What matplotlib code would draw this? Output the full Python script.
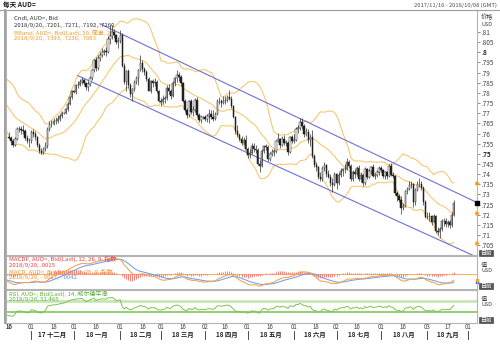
import numpy as np
import pandas as pd
import matplotlib
matplotlib.use("Agg")
import matplotlib.pyplot as plt
from matplotlib.transforms import blended_transform_factory
from matplotlib.patches import Rectangle

plt.rcParams['font.family'] = ['Noto Sans CJK SC', 'DejaVu Sans']

# ---------------------------------------------------------------- data
first_day, last_axis_day = '2017-11-16', '2018-10-08'

# daily AUD= bid candles, in pips (1e-4 USD)
opens = [
    7585, 7578, 7565, 7545, 7575, 7622, 7622, 7618, 7610, 7580, 7563,
    7565, 7607, 7600, 7583, 7545, 7515, 7503, 7525, 7540, 7624, 7647, 7646, 7663, 7661, 7673, 7685, 7701, 7701, 7720, 7745, 7780,
    7807, 7805, 7838, 7840, 7855, 7865, 7848, 7828, 7845, 7875, 7913, 7960, 7922, 7970, 7985, 8000, 8005, 8000, 8067, 8078, 8098, 8083, 8052,
    8057, 8087, 7930, 7856, 7910, 7839, 7795, 7817, 7855, 7875, 7915, 7945, 7918, 7905, 7868, 7810, 7860, 7850, 7855, 7810,
    7758, 7755, 7770, 7775, 7825, 7810, 7787, 7850, 7875, 7890, 7880, 7850, 7760, 7715, 7690, 7760, 7705, 7715, 7765, 7690, 7665, 7680,
    7680, 7670, 7685, 7695, 7680, 7670, 7695, 7760, 7762, 7750, 7760, 7765, 7780, 7772, 7735, 7680, 7610, 7595, 7575, 7555, 7570,
    7525, 7495, 7505, 7540, 7525, 7520, 7450, 7440, 7515, 7540, 7535, 7475, 7500, 7510, 7515, 7565, 7575, 7545, 7575, 7555, 7555, 7510, 7585,
    7565, 7570, 7620, 7625, 7658, 7635, 7600, 7605, 7570, 7585, 7490, 7445, 7435, 7385, 7375, 7430, 7445, 7400, 7385, 7355, 7345,
    7400, 7355, 7395, 7415, 7425, 7425, 7460, 7440, 7375, 7410, 7400, 7430, 7375, 7395, 7355, 7425, 7385, 7415, 7435, 7390, 7395, 7410,
    7430, 7420, 7390, 7410, 7390, 7440, 7395, 7390, 7305, 7290, 7275, 7235, 7245, 7315, 7325, 7345, 7350, 7265, 7320, 7350, 7350, 7330, 7265,
    7190, 7190, 7195, 7165, 7195, 7120, 7115, 7130, 7170, 7170, 7155, 7165, 7150, 7201,
]
highs = [
    7607, 7590, 7572, 7585, 7630, 7635, 7635, 7640, 7620, 7595, 7578,
    7615, 7620, 7610, 7590, 7555, 7530, 7535, 7560, 7630, 7660, 7665, 7675, 7680, 7690, 7695, 7712, 7708, 7728, 7755, 7785, 7815,
    7812, 7845, 7858, 7870, 7880, 7870, 7855, 7860, 7885, 7920, 7965, 7975, 7985, 8000, 8020, 8015, 8025, 8080, 8135, 8136, 8115, 8090, 8075,
    8110, 8095, 7945, 7915, 7918, 7850, 7825, 7865, 7885, 7920, 7988, 7960, 7925, 7915, 7880, 7865, 7870, 7875, 7865, 7815,
    7775, 7790, 7785, 7840, 7845, 7820, 7860, 7880, 7915, 7905, 7890, 7855, 7770, 7725, 7765, 7770, 7735, 7775, 7780, 7700, 7690, 7688,
    7690, 7695, 7720, 7715, 7715, 7705, 7770, 7780, 7770, 7785, 7785, 7790, 7812, 7785, 7740, 7685, 7640, 7605, 7590, 7585, 7595,
    7535, 7525, 7555, 7555, 7545, 7530, 7470, 7525, 7545, 7550, 7545, 7510, 7525, 7525, 7570, 7605, 7580, 7590, 7595, 7570, 7565, 7590, 7595,
    7600, 7630, 7640, 7677, 7675, 7645, 7625, 7620, 7600, 7615, 7500, 7460, 7440, 7410, 7440, 7460, 7450, 7420, 7400, 7380, 7410,
    7405, 7410, 7430, 7430, 7450, 7480, 7470, 7450, 7420, 7425, 7440, 7445, 7410, 7400, 7435, 7430, 7425, 7440, 7450, 7405, 7420, 7440,
    7440, 7425, 7415, 7415, 7450, 7453, 7410, 7395, 7315, 7300, 7290, 7260, 7320, 7335, 7365, 7365, 7355, 7330, 7365, 7380, 7365, 7340, 7275,
    7215, 7215, 7200, 7205, 7200, 7140, 7140, 7180, 7185, 7185, 7175, 7175, 7215, 7271,
]
lows = [
    7571, 7545, 7532, 7540, 7568, 7608, 7600, 7598, 7570, 7552, 7532,
    7555, 7585, 7568, 7535, 7505, 7500, 7498, 7515, 7530, 7610, 7630, 7640, 7645, 7650, 7660, 7675, 7695, 7695, 7712, 7738, 7772,
    7798, 7795, 7825, 7832, 7845, 7838, 7815, 7810, 7835, 7865, 7905, 7910, 7915, 7955, 7975, 7985, 7980, 7995, 8040, 8065, 8070, 8040, 8020,
    8045, 7925, 7845, 7810, 7825, 7780, 7758, 7810, 7845, 7840, 7910, 7905, 7890, 7860, 7810, 7800, 7830, 7835, 7800, 7755,
    7735, 7745, 7750, 7765, 7795, 7770, 7780, 7835, 7855, 7860, 7835, 7755, 7705, 7675, 7680, 7695, 7685, 7705, 7680, 7655, 7650, 7670,
    7660, 7655, 7650, 7670, 7660, 7665, 7690, 7745, 7730, 7745, 7745, 7755, 7765, 7725, 7675, 7600, 7585, 7565, 7545, 7545, 7520,
    7480, 7480, 7500, 7510, 7505, 7445, 7413, 7435, 7505, 7520, 7465, 7465, 7490, 7490, 7505, 7560, 7530, 7540, 7545, 7540, 7495, 7505, 7555,
    7555, 7565, 7605, 7615, 7620, 7585, 7590, 7555, 7540, 7480, 7435, 7415, 7375, 7365, 7365, 7415, 7385, 7380, 7340, 7310, 7340,
    7325, 7345, 7385, 7390, 7405, 7420, 7430, 7365, 7365, 7380, 7390, 7365, 7360, 7340, 7345, 7375, 7380, 7400, 7385, 7375, 7385, 7395,
    7410, 7380, 7375, 7375, 7385, 7390, 7380, 7295, 7270, 7265, 7202, 7225, 7240, 7300, 7320, 7330, 7240, 7250, 7315, 7335, 7320, 7250, 7185,
    7180, 7170, 7150, 7160, 7110, 7100, 7085, 7120, 7145, 7140, 7140, 7135, 7140, 7192,
]
closes = [
    7578, 7565, 7545, 7575, 7622, 7622, 7618, 7610, 7580, 7563, 7565,
    7607, 7600, 7583, 7545, 7515, 7503, 7525, 7540, 7624, 7647, 7646, 7663, 7661, 7673, 7685, 7701, 7701, 7720, 7745, 7780, 7807,
    7805, 7838, 7840, 7855, 7865, 7848, 7828, 7845, 7875, 7913, 7960, 7922, 7970, 7985, 8000, 8005, 8000, 8067, 8078, 8098, 8083, 8052, 8057,
    8087, 7930, 7856, 7910, 7839, 7795, 7817, 7855, 7875, 7915, 7945, 7918, 7905, 7868, 7810, 7860, 7850, 7855, 7810, 7758,
    7755, 7770, 7775, 7825, 7810, 7787, 7850, 7875, 7890, 7880, 7850, 7760, 7715, 7690, 7760, 7705, 7715, 7765, 7690, 7665, 7680, 7680,
    7670, 7685, 7695, 7680, 7670, 7695, 7760, 7762, 7750, 7760, 7765, 7780, 7772, 7735, 7680, 7610, 7595, 7575, 7555, 7570, 7525,
    7495, 7505, 7540, 7525, 7520, 7450, 7440, 7515, 7540, 7535, 7475, 7500, 7510, 7515, 7565, 7575, 7545, 7575, 7555, 7555, 7510, 7585, 7565,
    7570, 7620, 7625, 7658, 7635, 7600, 7605, 7570, 7585, 7490, 7445, 7435, 7385, 7375, 7430, 7445, 7400, 7385, 7355, 7345, 7400,
    7355, 7395, 7415, 7425, 7425, 7460, 7440, 7375, 7410, 7400, 7430, 7375, 7395, 7355, 7425, 7385, 7415, 7435, 7390, 7395, 7410, 7430,
    7420, 7390, 7410, 7390, 7440, 7395, 7390, 7305, 7290, 7275, 7235, 7245, 7315, 7325, 7345, 7350, 7265, 7320, 7350, 7350, 7330, 7265, 7190,
    7190, 7195, 7165, 7195, 7120, 7115, 7130, 7170, 7170, 7155, 7165, 7150, 7201, 7260,
]
# closes of the sessions just before the window (seed the indicators)
prior_closes = [
    7840, 7805, 7775, 7780, 7790, 7815, 7850, 7865, 7860, 7840, 7860,
    7855, 7850, 7835, 7830, 7820, 7770, 7745, 7715, 7710, 7700, 7710,
    7725, 7700, 7705, 7680, 7700, 7705, 7690, 7670, 7630,
]

# trend channel anchors (date, price)
channel_top = [('2018-01-18', 0.8140), ('2018-10-08', 0.7258)]
channel_bottom = [('2018-01-03', 0.7885), ('2018-10-08', 0.6989)]

legend_price = ['Cndl, AUD=, Bid', '2018/9/20, .7201, .7271, .7192, .7260']
legend_bb = ['BBand, AUD=, Bid(Last), 20, 简单, 2.0', '2018/9/20, .7393, .7236, .7083']
legend_macdf = ['MACDF, AUD=, Bid(Last), 12, 26, 9, 指数', '2018/9/20, .0015']
legend_macd = ['MACD, AUD=, Bid(Last), 12, 26, 9, 指数', '2018/9/20, -.0027', ', -.0042']
legend_rsi = ['RSI, AUD=, Bid(Last), 14, 威尔德平滑', '2018/9/20, 52.465']
month_names = ['一月', '二月', '三月', '四月', '五月', '六月',
               '七月', '八月', '九月', '十月', '十一月', '十二月']

# ---------------------------------------------------------------- derived series
axis_days = pd.bdate_range(first_day, last_axis_day)
n = len(closes)
idx = np.arange(n)
o = np.array(opens) / 1e4
h = np.array(highs) / 1e4
l = np.array(lows) / 1e4
c = np.array(closes) / 1e4

full = pd.Series(np.r_[np.array(prior_closes) / 1e4, c],
                 index=np.arange(-len(prior_closes), n))
mid = full.rolling(20).mean()
sd = full.rolling(20).std(ddof=0)
bb_up, bb_lo = mid + 2 * sd, mid - 2 * sd

ema12 = full.ewm(span=12, adjust=False).mean()
ema26 = full.ewm(span=26, adjust=False).mean()
macd = ema12 - ema26
signal = macd.ewm(span=9, adjust=False).mean()
hist = macd - signal

delta = full.diff()
gain = delta.clip(lower=0).ewm(alpha=1 / 14, adjust=False).mean()
loss = (-delta.clip(upper=0)).ewm(alpha=1 / 14, adjust=False).mean()
rsi = 100 - 100 / (1 + gain / loss)


def day_index(d):
    return axis_days.get_loc(pd.Timestamp(d))


# ---------------------------------------------------------------- figure
W, H = 500, 347
fig = plt.figure(figsize=(W / 100, H / 100), dpi=100)
fig.patch.set_facecolor('white')


def box(x0, y0, x1, y1):
    return [x0 / W, 1 - y1 / H, (x1 - x0) / W, (y1 - y0) / H]


XL = (-1.5, 231.5)
ax = fig.add_axes(box(6, 10, 477, 255))
axm = fig.add_axes(box(6, 256, 477, 289))
axr = fig.add_axes(box(6, 290, 477, 323))

frame_col = '#b4b4b4'
for a in (ax, axm, axr):
    a.set_xlim(*XL)
    a.set_facecolor('white')
    for s in a.spines.values():
        s.set_color(frame_col)
        s.set_linewidth(0.8)
    a.set_xticks([])
    a.yaxis.tick_right()
    a.tick_params(axis='y', length=2, width=0.5, color='#606060',
                  labelsize=4.6, labelcolor='#404040', pad=1)

# ---- price panel
ax.set_ylim(0.7002, 0.8208)
yt = np.round(np.arange(0.705, 0.8101, 0.005), 3)
ax.set_yticks(yt)
ax.set_yticklabels([('%.3f' % v).rstrip('0').lstrip('0') for v in yt])
for lab, v in zip(ax.get_yticklabels(), yt):
    if abs(round(v * 1000) % 50) == 0:
        lab.set_fontweight('bold')
        lab.set_color('#202020')

band_col = '#f6c56b'
ax.plot(full.index, bb_up, color=band_col, lw=0.75)
ax.plot(full.index, mid, color=band_col, lw=0.75)
ax.plot(full.index, bb_lo, color=band_col, lw=0.75)

chan_col = '#6f6fd6'
for seg in (channel_top, channel_bottom):
    ax.plot([day_index(seg[0][0]), day_index(seg[1][0])],
            [seg[0][1], seg[1][1]], color=chan_col, lw=0.8)

# candlesticks
up = c >= o
ax.vlines(idx, l, h, color='#303030', lw=0.5, zorder=3)
body_w = 0.7
for i in range(n):
    lo_b, hi_b = min(o[i], c[i]), max(o[i], c[i])
    hb = max(hi_b - lo_b, 0.00015)
    ax.add_patch(Rectangle((i - body_w / 2, lo_b), body_w, hb,
                           facecolor='white' if up[i] else '#202020',
                           edgecolor='#202020', lw=0.35, zorder=4))

tx = dict(transform=ax.transAxes, fontsize=4.3, va='top', ha='left')
ax.text(0.018, 0.974, legend_price[0], color='#303030', **tx)
ax.text(0.018, 0.947, legend_price[1], color='#303030', **tx)
ax.text(0.018, 0.920, legend_bb[0], color='#e89a30', **tx)
ax.text(0.018, 0.893, legend_bb[1], color='#e89a30', **tx)

# last-value markers on the price scale
for val, col, mk in ((bb_up.iloc[-1], '#f0a020', '>'), (mid.iloc[-1], '#f0a020', '>'),
                     (bb_lo.iloc[-1], '#f0a020', '>'), (c[-1], '#000000', 's')):
    ax.plot([XL[1]], [val], marker=mk, ms=2.2, color=col, clip_on=False, zorder=6)

# ---- MACD panel (zero line about 55 % down the panel, peak near the top)
win = full.index >= 0
peak = float(macd[win].max())
axm.set_ylim(-peak * 15 / 16, peak * 18 / 16)
axm.set_yticks([])
axm.axhline(0, color='#f7b070', lw=0.8)
axm.vlines(full.index, 0, hist, color='#ff5a5a', lw=0.55)
axm.plot(full.index, signal, color='#6f9ff0', lw=0.75)
axm.plot(full.index, macd, color='#f7a04c', lw=0.75)
tm = dict(transform=axm.transAxes, fontsize=4.3, va='top', ha='left')
axm.text(0.006, 0.99, legend_macdf[0], color='#f03c3c', **tm)
axm.text(0.006, 0.80, legend_macdf[1], color='#f03c3c', **tm)
axm.text(0.006, 0.61, legend_macd[0], color='#f09030', **tm)
t1 = axm.text(0.006, 0.42, legend_macd[1], color='#f09030', **tm)
fig.canvas.draw()
bb = t1.get_window_extent()
fig.text(bb.x1 / W, bb.y1 / H, legend_macd[2], color='#5f8fe8', fontsize=4.3,
         va='top', ha='left')
axm.plot([XL[1]], [signal.iloc[-1]], marker='s', ms=2, color='#3060e0', clip_on=False)
axm.plot([XL[1]], [macd.iloc[-1]], marker='s', ms=2, color='#f0a020', clip_on=False)

# ---- RSI panel
axr.set_ylim(-10, 110)
axr.set_yticks([])
axr.axhline(70, color='#c6e6b4', lw=2.0)
axr.axhline(30, color='#8ccc66', lw=1.3)
axr.plot(full.index, rsi, color='#7cc452', lw=0.7)
tr = dict(transform=axr.transAxes, fontsize=4.3, va='top', ha='left', color='#58b030')
axr.text(0.006, 0.99, legend_rsi[0], **tr)
axr.text(0.006, 0.80, legend_rsi[1], **tr)


# ---- right-hand captions
def rtext(y, s, size=4.5):
    fig.text(481 / W, 1 - y / H, s, fontsize=size, color='#404040', va='center', ha='left')


rtext(17, '价格')
rtext(24, 'USD', 4.0)
rtext(265, '值')
rtext(271, 'USD', 4.0)
rtext(299, '值')
rtext(305, 'USD', 4.0)
for yb in (253, 286, 320):
    fig.text(480 / W, 1 - yb / H, '目前', fontsize=4.2, color='white', va='center', ha='left',
             bbox=dict(boxstyle='square,pad=0.15', fc='#555555', ec='#333333', lw=0.4))

# ---- title bar
fig.text(3 / W, 1 - 5 / H, '每天 AUD=', fontsize=4.8, fontweight='bold',
         color='#202020', va='center', ha='left')
fig.text(497 / W, 1 - 5 / H, '2017/11/16 - 2018/10/08 (GMT)', fontsize=4.2,
         color='#505050', va='center', ha='right')
fig.add_artist(plt.Line2D([0, 1], [1 - 9.5 / H, 1 - 9.5 / H], color='#a0a0a0', lw=0.8))
fig.add_artist(plt.Line2D([5 / W, 5 / W], [1 - 323 / H, 1 - 9.5 / H], color='#a0a0a0', lw=1.4))

# ---- date axis
tf = blended_transform_factory(ax.transData, fig.transFigure)
tick_days = []
for m in pd.period_range('2017-11', '2018-10', freq='M'):
    for dom in (1, 16):
        d = pd.Timestamp(m.year, m.month, dom)
        later = axis_days[axis_days >= d]
        if len(later) and later[0].month == m.month:
            tick_days.append(later[0])
for d in tick_days:
    fig.text(day_index(d), 1 - 327 / H, '%02d' % d.day, transform=tf, fontsize=4.4,
             color='#404040', ha='center', va='center')

periods = pd.period_range('2017-12', '2018-10', freq='M')
starts = []
for p in periods:
    sel = axis_days[(axis_days.year == p.year) & (axis_days.month == p.month)]
    starts.append(day_index(sel[0]))
for s in starts:
    fig.add_artist(plt.Line2D([s, s], [1 - 339 / H, 1 - 331 / H], transform=tf,
                              color='#303030', lw=0.6))
for p, s0, s1 in zip(periods[:-1], starts[:-1], starts[1:]):
    fig.text((s0 + s1) / 2, 1 - 335 / H, '%02d %s' % (p.year % 100, month_names[p.month - 1]),
             transform=tf, fontsize=4.6, fontweight='bold', color='#202020',
             ha='center', va='center')

fig.savefig('out.png', dpi=100)
